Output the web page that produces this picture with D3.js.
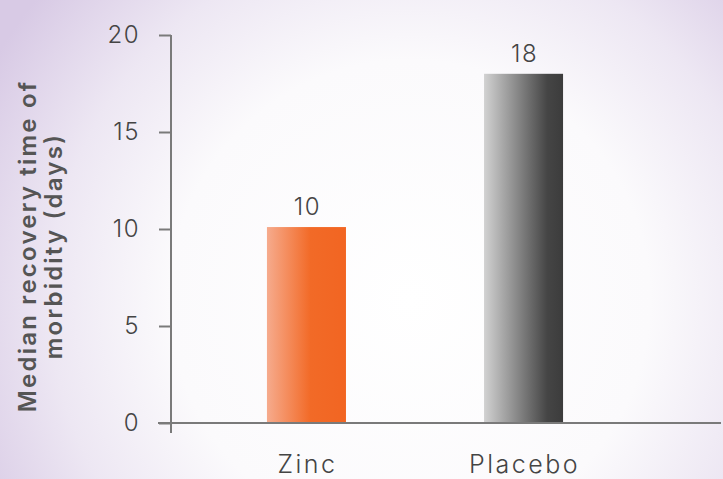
<!DOCTYPE html>
<html><head><meta charset="utf-8">
<script src="https://cdn.jsdelivr.net/npm/d3@7"></script>
<style>html,body{margin:0;padding:0;overflow:hidden;} svg{display:block;}</style>
</head><body>
<script>
const categories = ["Zinc", "Placebo"];
const values = [10.1, 18];
const valueLabels = ["10", "18"];
const yTicks = [0, 5, 10, 15, 20];
const yTitle = ["Median recovery time of", "morbidity (days)"];

const W = 723, H = 479;
const svg = d3.select("body").append("svg").attr("width", W).attr("height", H);
const defs = svg.append("defs");

const bg = defs.append("radialGradient").attr("id", "bg")
  .attr("gradientUnits", "userSpaceOnUse").attr("cx", 410).attr("cy", 300).attr("r", 480);
bg.append("stop").attr("offset", "0").attr("stop-color", "#ffffff");
bg.append("stop").attr("offset", "0.5").attr("stop-color", "#fbfafc");
bg.append("stop").attr("offset", "0.75").attr("stop-color", "#ede7f3");
bg.append("stop").attr("offset", "1").attr("stop-color", "#d8cae5");
svg.append("rect").attr("width", W).attr("height", H).attr("fill", "url(#bg)");

const g1 = defs.append("linearGradient").attr("id", "g0").attr("x1", 0).attr("x2", 1).attr("y1", 0).attr("y2", 0);
g1.append("stop").attr("offset", "0").attr("stop-color", "#f6ab8d");
g1.append("stop").attr("offset", "0.55").attr("stop-color", "#f26a27");
g1.append("stop").attr("offset", "1").attr("stop-color", "#f26522");
const g2 = defs.append("linearGradient").attr("id", "g1").attr("x1", 0).attr("x2", 1).attr("y1", 0).attr("y2", 0);
g2.append("stop").attr("offset", "0").attr("stop-color", "#d2d2d2");
g2.append("stop").attr("offset", "0.8").attr("stop-color", "#454545");
g2.append("stop").attr("offset", "1").attr("stop-color", "#3c3c3c");

const y = d3.scaleLinear().domain([0, 20]).range([423, 35]);
const x = d3.scaleBand().domain(categories).range([171, 659]).paddingInner(0.636).paddingOuter(0.442);

const font = "Inter, sans-serif";
const axisColor = "#7a7a7a";

// bars
svg.selectAll("rect.bar").data(categories).enter().append("rect")
  .attr("class", "bar")
  .attr("x", d => x(d)).attr("width", x.bandwidth())
  .attr("y", (d, i) => y(values[i])).attr("height", (d, i) => y(0) - y(values[i]))
  .attr("fill", (d, i) => `url(#g${i})`);

// y axis
const yAxis = svg.append("g").attr("transform", "translate(171,0)")
  .call(d3.axisLeft(y).tickValues(yTicks).tickSize(12).tickPadding(19));
yAxis.select(".domain").remove();
yAxis.selectAll(".tick line").attr("stroke", axisColor).attr("stroke-width", 2);
yAxis.selectAll(".tick text").attr("fill", "#444").attr("font-family", font)
  .attr("font-size", 24).attr("font-weight", 300).attr("letter-spacing", 1.5);
svg.append("line").attr("x1", 171).attr("x2", 171).attr("y1", 35).attr("y2", 433)
  .attr("stroke", axisColor).attr("stroke-width", 2);

// x axis line
svg.append("line").attr("x1", 158).attr("x2", 721).attr("y1", y(0)).attr("y2", y(0))
  .attr("stroke", axisColor).attr("stroke-width", 2);

// category labels
svg.selectAll("text.cat").data(categories).enter().append("text")
  .attr("class", "cat")
  .attr("x", d => x(d) + x.bandwidth() / 2 + 1).attr("y", 473)
  .attr("text-anchor", "middle").attr("fill", "#444").attr("font-family", font)
  .attr("font-size", 25).attr("font-weight", 300).attr("letter-spacing", 2.5).text(d => d);

// value labels
svg.selectAll("text.val").data(categories).enter().append("text")
  .attr("class", "val")
  .attr("x", d => x(d) + x.bandwidth() / 2 + 1).attr("y", (d, i) => y(values[i]) - 12)
  .attr("text-anchor", "middle").attr("fill", "#444").attr("font-family", font)
  .attr("font-size", 24).attr("font-weight", 300).attr("letter-spacing", 1.5).text((d, i) => valueLabels[i]);

// y title
const t = svg.append("text").attr("transform", "translate(36,246) rotate(-90)")
  .attr("text-anchor", "middle").attr("fill", "#555").attr("font-family", font)
  .attr("font-size", 24).attr("font-weight", 600).attr("letter-spacing", 2.2);
t.selectAll("tspan").data(yTitle).enter().append("tspan")
  .attr("x", 0).attr("dy", (d, i) => i === 0 ? 0 : 26).text(d => d);
</script>
</body></html>
